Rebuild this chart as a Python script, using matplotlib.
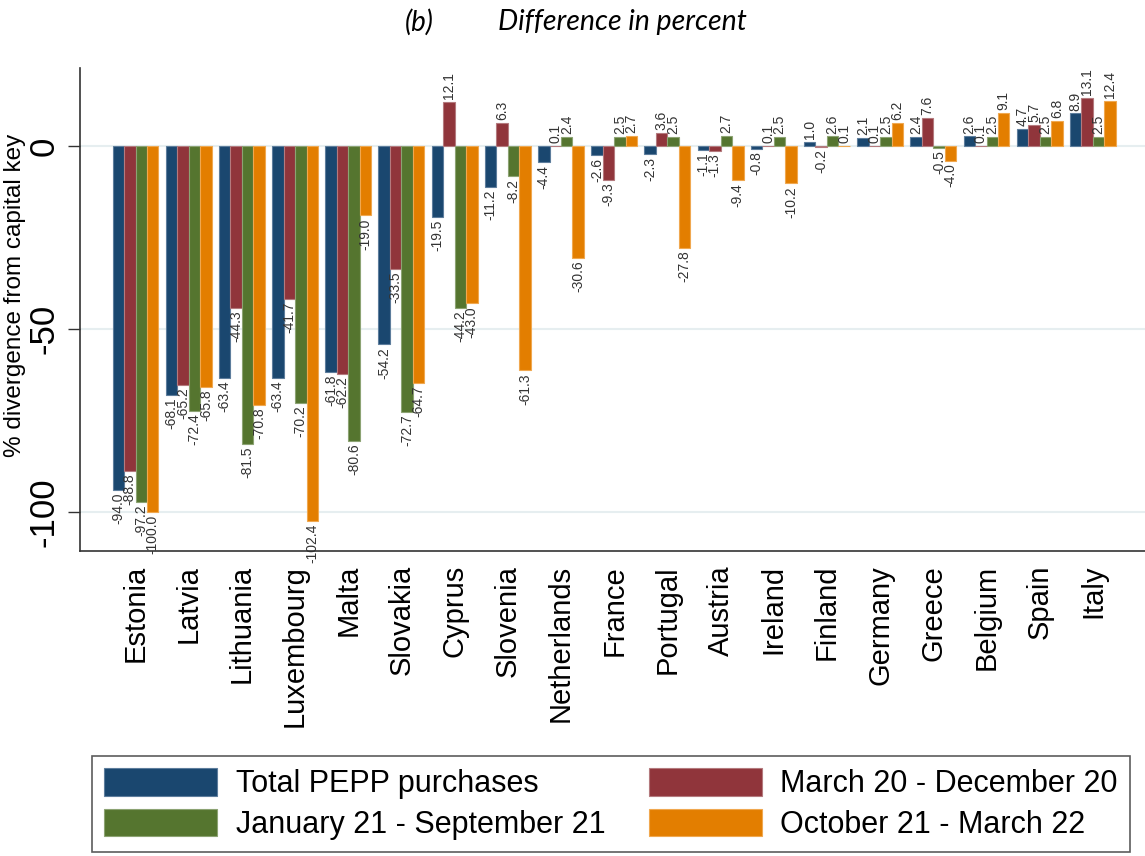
import numpy as np
import matplotlib.pyplot as plt

plt.rcParams['font.family'] = ['Liberation Sans', 'DejaVu Sans']

countries = ["Estonia", "Latvia", "Lithuania", "Luxembourg", "Malta", "Slovakia",
             "Cyprus", "Slovenia", "Netherlands", "France", "Portugal", "Austria",
             "Ireland", "Finland", "Germany", "Greece", "Belgium", "Spain", "Italy"]

total = [-94.0, -68.1, -63.4, -63.4, -61.8, -54.2, -19.5, -11.2, -4.4, -2.6,
         -2.3, -1.1, -0.8, 1.0, 2.1, 2.4, 2.6, 4.7, 8.9]
mar20_dec20 = [-88.8, -65.2, -44.3, -41.7, -62.2, -33.5, 12.1, 6.3, 0.1, -9.3,
               3.6, -1.3, 0.1, -0.2, 0.1, 7.6, 0.1, 5.7, 13.1]
jan21_sep21 = [-97.2, -72.4, -81.5, -70.2, -80.6, -72.7, -44.2, -8.2, 2.4, 2.5,
               2.5, 2.7, 2.5, 2.6, 2.5, -0.5, 2.5, 2.5, 2.5]
oct21_mar22 = [-100.0, -65.8, -70.8, -102.4, -19.0, -64.7, -43.0, -61.3, -30.6, 2.7,
               -27.8, -9.4, -10.2, 0.1, 6.2, -4.0, 9.1, 6.8, 12.4]

series = [total, mar20_dec20, jan21_sep21, oct21_mar22]
names = ["Total PEPP purchases", "March 20 - December 20",
         "January 21 - September 21", "October 21 - March 22"]
colors = ["#1a476f", "#90353b", "#55752f", "#e37e00"]
edges = ["#5d7d9c", "#b47a7e", "#8ca373", "#f0a850"]

fig = plt.figure(figsize=(11.45, 8.56), dpi=100)
ax = fig.add_axes([0.0699, 0.3563, 0.9301, 0.5643])

x = np.arange(len(countries))
w = 0.216
handles = []
for i, vals in enumerate(series):
    pos = x + (i - 1.5) * w
    b = ax.bar(pos, vals, width=w, color=colors[i], edgecolor=edges[i],
               linewidth=0.8, zorder=3)
    handles.append(b)
    for xp, v in zip(pos, vals):
        off = 2 if v >= 0 else -2
        ax.annotate(f"{v:.1f}", (xp, v), xytext=(0, off), textcoords="offset points",
                    rotation=90, ha="center", va="bottom" if v >= 0 else "top",
                    fontsize=10, color="#333333", annotation_clip=False, zorder=4)

ax.set_xlim(-1.043, 18.98)
ax.set_ylim(-110.7, 21.3)
ax.set_yticks([0, -50, -100])
ax.set_yticklabels(["0", "-50", "-100"], rotation=90, va="center", fontsize=25)
ax.set_xticks(x)
ax.set_xticklabels(countries, rotation=90, fontsize=21)
ax.tick_params(axis="x", length=0, pad=10)
ax.tick_params(axis="y", length=9, width=1, color="#333333", pad=5)
ax.grid(axis="y", color="#e6eef0", linewidth=1.5, zorder=0)
ax.set_axisbelow(True)
for s in ["top", "right"]:
    ax.spines[s].set_visible(False)
for s in ["left", "bottom"]:
    ax.spines[s].set_color("#333333")
    ax.spines[s].set_linewidth(1.2)
ax.set_ylabel("% divergence from capital key", fontsize=17.5)
ax.yaxis.set_label_coords(-0.051, 0.53)

fig.text(0.366, 0.974, "(b)", fontsize=20, style="italic", family="Lato",
         ha="center", va="center")
fig.text(0.435, 0.974, "Difference in percent", fontsize=20.5, style="italic",
         family="Lato", ha="left", va="center")

order = [0, 2, 1, 3]
leg = fig.legend([handles[k] for k in order], [names[k] for k in order],
                 ncol=2, loc="lower left",
                 bbox_to_anchor=(0.0803, 0.0047, 0.9066, 0.111), mode="expand",
                 fontsize=22, frameon=True, fancybox=False, edgecolor="#333333",
                 handlelength=3.7, handleheight=1.0, handletextpad=0.6,
                 labelspacing=0.3, borderpad=0.4, borderaxespad=0)
leg.get_frame().set_linewidth(1.2)

fig.savefig("out.png", dpi=100)
